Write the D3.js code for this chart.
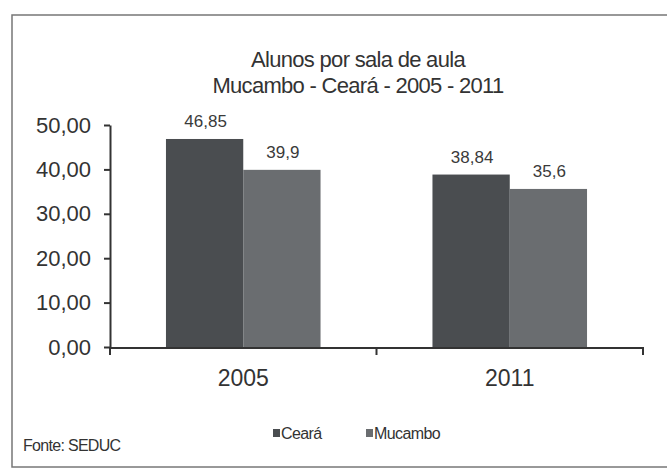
<!DOCTYPE html>
<html>
<head>
<meta charset="utf-8">
<script src="https://cdn.jsdelivr.net/npm/d3@7"></script>
<style>
  body { margin: 0; background: #fff; }
  svg { display: block; font-family: "Liberation Sans", Arial, sans-serif; }
  .axis path, .axis line { stroke: #333; stroke-width: 2; }
  .axis text { fill: #333; font-size: 22px; }
</style>
</head>
<body>
<svg width="667" height="471"></svg>
<script>
const years = ["2005", "2011"]
const series = ["Ceará", "Mucambo"]
const ceara = [46.85, 38.84]
const mucambo = [39.9, 35.6]
const yTicks = [0, 10, 20, 30, 40, 50]
const titleLines = ["Alunos por sala de aula", "Mucambo - Ceará - 2005 - 2011"]
const source = "Fonte: SEDUC"

const svg = d3.select("svg")

const x0 = d3.scaleBand().domain(years).range([110, 643]).paddingInner(0.42).paddingOuter(0.21),
      x1 = d3.scaleBand().domain(series).range([0, x0.bandwidth()]),
      y = d3.scaleLinear().domain([0, 50]).range([347, 125]),
      colors = d3.scaleOrdinal().domain(series).range(["#4a4d50", "#6a6d70"])

const comma = v => String(v).replace(".", ",")

// table built from the arrays
const rows = years.map((yr, i) => ({year: yr, values: [
  {id: series[0], value: ceara[i]},
  {id: series[1], value: mucambo[i]}
]}))

// frame
svg.append("rect")
  .attr("x", 12).attr("y", 15).attr("width", 700).attr("height", 452)
  .style("fill", "none").style("stroke", "#777").style("stroke-width", 1.5)

// title
svg.append("g").selectAll("text")
  .data(titleLines)
  .enter().append("text")
    .attr("x", 358)
    .attr("y", (d, i) => 67 + i * 26)
    .attr("text-anchor", "middle")
    .style("font-size", "22px")
    .style("letter-spacing", "-0.7px")
    .style("fill", "#333")
    .text(d => d)

// bars
const groups = svg.selectAll(".year")
  .data(rows)
  .enter().append("g")
    .attr("class", "year")
    .attr("transform", d => "translate(" + x0(d.year) + ",0)")

groups.selectAll("rect")
  .data(d => d.values)
  .enter().append("rect")
    .attr("x", d => x1(d.id))
    .attr("y", d => y(d.value))
    .attr("width", x1.bandwidth())
    .attr("height", d => y(0) - y(d.value))
    .style("fill", d => colors(d.id))

groups.selectAll(".val")
  .data(d => d.values)
  .enter().append("text")
    .attr("class", "val")
    .attr("x", d => x1(d.id) + x1.bandwidth() / 2 + 1)
    .attr("y", d => y(d.value) - 12)
    .attr("text-anchor", "middle")
    .style("font-size", "17px")
    .style("fill", "#3a3a3a")
    .text(d => comma(d.value))

// y axis
svg.append("g")
  .attr("class", "axis axis--y")
  .attr("transform", "translate(110,0)")
  .call(d3.axisLeft(y).tickValues(yTicks).tickSize(6).tickSizeOuter(0).tickPadding(13)
    .tickFormat(d => d3.format(".2f")(d).replace(".", ",")))

// x axis: line, ticks between categories, labels at centres
const xAxis = svg.append("g").attr("class", "axis axis--x")
const step = x0.step(), x0start = x0.range()[0]
xAxis.append("line")
  .attr("x1", x0start).attr("x2", x0.range()[1])
  .attr("y1", y(0) + 1).attr("y2", y(0) + 1)
xAxis.selectAll(".sep")
  .data(d3.range(years.length + 1))
  .enter().append("line")
    .attr("class", "sep")
    .attr("x1", i => x0start + i * step).attr("x2", i => x0start + i * step)
    .attr("y1", y(0)).attr("y2", y(0) + 8)
xAxis.selectAll(".lbl")
  .data(years)
  .enter().append("text")
    .attr("class", "lbl")
    .attr("x", d => x0(d) + x0.bandwidth() / 2)
    .attr("y", 386)
    .attr("text-anchor", "middle")
    .style("font-size", "23px")
    .text(d => d)

// legend
const legendX = [273, 366]
const legend = svg.selectAll(".legend")
  .data(series)
  .enter().append("g")
    .attr("class", "legend")
    .attr("transform", (d, i) => "translate(" + legendX[i] + ",439)")
legend.append("rect")
  .attr("x", 0).attr("y", -10).attr("width", 7).attr("height", 8)
  .style("fill", d => colors(d))
legend.append("text")
  .attr("x", 8)
  .style("font-size", "16px")
  .style("letter-spacing", "-0.6px")
  .style("fill", "#333")
  .text(d => d)

// source
svg.append("text")
  .attr("x", 23).attr("y", 451)
  .style("font-size", "16px")
  .style("letter-spacing", "-0.7px")
  .style("fill", "#333")
  .text(source)
</script>
</body>
</html>
